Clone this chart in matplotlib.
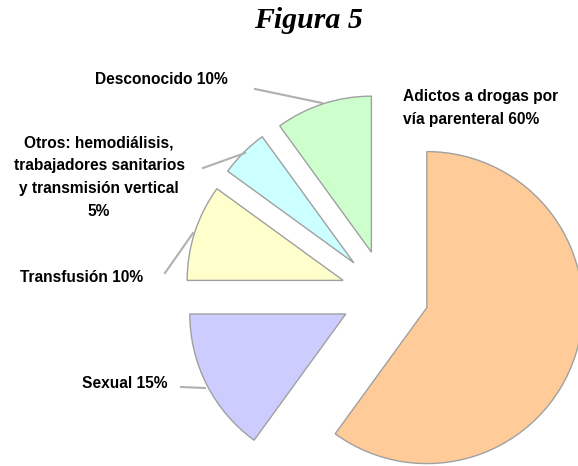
"""Pie chart: Figura 5."""

import matplotlib
matplotlib.use('Agg')
import matplotlib.pyplot as _plt

# slice data (clockwise from the top)
labels = ['Adictos a drogas por\nvía parenteral 60%',
          'Sexual 15%',
          'Transfusión 10%',
          'Otros: hemodiálisis,\ntrabajadores sanitarios\n'
          'y transmisión vertical\n5%',
          'Desconocido 10%']
values = [60, 15, 10, 5, 10]
colors = ['#FFCC99', '#CCCCFF', '#FFFFCC', '#CCFFFF', '#CCFFCC']

W, H = 578, 466
fig = _plt.figure(figsize=(W/100, H/100), dpi=100)
ax = fig.add_axes([0, 0, 1, 1])

# pie drawn in pixel-like coordinates (explode is in data units here)
center = (385, H - 294)
radius = 156
wedges, _ = ax.pie(values, colors=colors, startangle=90, counterclock=False,
                   explode=[44]*5, center=center, radius=radius,
                   wedgeprops=dict(edgecolor='#a0a0a0', linewidth=1.0))
ax.set_xlim(0, W)
ax.set_ylim(0, H)
ax.set_aspect('equal')
ax.axis('off')

font = dict(family=['Liberation Sans Narrow', 'Liberation Sans'],
            fontweight='bold', fontsize=11.2, color='black')

# label positions (x, y from top), alignment, leader line points
lab_pos = [(403, 108, 'left'), (125, 384, 'center'), (82, 278, 'center'),
           (99, 177, 'center'), (161, 79, 'center')]
leaders = [None,
           [(181, 387), (205, 388)],
           [(165, 273), (193, 233)],
           [(203, 168), (245, 153)],
           [(255, 89), (322, 103)]]

for lab, (x, y, ha), pts in zip(labels, lab_pos, leaders):
    ax.text(x, H - y, lab, ha=ha, va='center', linespacing=1.66, **font)
    if pts is not None:
        ax.plot([p[0] for p in pts], [H - p[1] for p in pts],
                color='#b0b0b0', lw=1.5)

fig.text(308/W, 1 - 21/H, 'Figura 5', ha='center', va='center',
         family='Liberation Serif', fontweight='bold', style='italic',
         fontsize=21.5)

fig.savefig('out.png', dpi=100)
